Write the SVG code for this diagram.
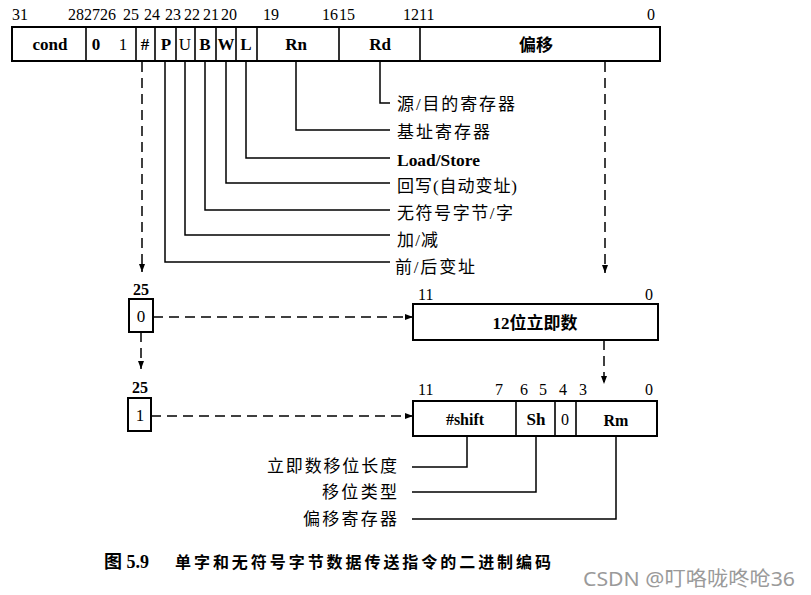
<svg xmlns="http://www.w3.org/2000/svg" width="811" height="595" viewBox="0 0 811 595">
<style>
.bx{fill:#fff;stroke:#000;stroke-width:2}
.dv{stroke:#000;stroke-width:1.6}
.num{font-family:"Liberation Serif",serif;font-size:16px;fill:#000}
.lb{font-family:"Liberation Serif","Noto Sans CJK SC",serif;font-size:17px;font-weight:bold;fill:#000;text-anchor:middle}
.nb{font-weight:normal}
.cj{font-family:"Liberation Serif","Noto Sans CJK SC",serif;font-size:17px;fill:#000}
.ld{fill:none;stroke:#000;stroke-width:1.5}
.ds{fill:none;stroke:#000;stroke-width:1.5;stroke-dasharray:10 6}
</style>
<defs>
<marker id="ah" markerWidth="8" markerHeight="6" refX="8" refY="3" orient="auto" markerUnits="userSpaceOnUse">
<path d="M0,0 L8,3 L0,6 z" fill="#000"/>
</marker>
</defs>
<rect width="811" height="595" fill="#fff"/>

<g id="instr-format">
<rect class="bx" x="12" y="27" width="648" height="34"/>
<line class="dv" x1="86" y1="27" x2="86" y2="61"/>
<line class="dv" x1="136" y1="27" x2="136" y2="61"/>
<line class="dv" x1="155" y1="27" x2="155" y2="61"/>
<line class="dv" x1="176" y1="27" x2="176" y2="61"/>
<line class="dv" x1="195" y1="27" x2="195" y2="61"/>
<line class="dv" x1="216" y1="27" x2="216" y2="61"/>
<line class="dv" x1="236" y1="27" x2="236" y2="61"/>
<line class="dv" x1="257" y1="27" x2="257" y2="61"/>
<line class="dv" x1="339" y1="27" x2="339" y2="61"/>
<line class="dv" x1="420" y1="27" x2="420" y2="61"/>
<text class="num" x="12" y="20">31</text>
<text class="num" x="68" y="20">28</text>
<text class="num" x="84" y="20">27</text>
<text class="num" x="100" y="20">26</text>
<text class="num" x="123" y="20">25</text>
<text class="num" x="144" y="20">24</text>
<text class="num" x="165" y="20">23</text>
<text class="num" x="184" y="20">22</text>
<text class="num" x="203" y="20">21</text>
<text class="num" x="221" y="20">20</text>
<text class="num" x="263" y="20">19</text>
<text class="num" x="322" y="20">16</text>
<text class="num" x="339" y="20">15</text>
<text class="num" x="403" y="20">12</text>
<text class="num" x="419" y="20">11</text>
<text class="num" x="647" y="20">0</text>
<text class="lb" x="50" y="50">cond</text>
<text class="lb" x="96" y="50">0</text>
<text class="lb nb" x="123" y="50">1</text>
<text class="lb" x="145" y="50">#</text>
<text class="lb" x="166" y="50">P</text>
<text class="lb nb" x="185" y="50">U</text>
<text class="lb" x="205" y="50">B</text>
<text class="lb" x="226" y="50">W</text>
<text class="lb" x="246" y="50">L</text>
<text class="lb" x="296" y="50">Rn</text>
<text class="lb" x="380" y="50">Rd</text>
<text class="lb" x="536" y="51">偏移</text>
</g>

<g id="bit25-0">
<text class="lb" x="141" y="295" style="font-size:16px">25</text>
<rect class="bx" x="129" y="299" width="24" height="33"/>
<text class="lb nb" x="141" y="322">0</text>
</g>

<g id="bit25-1">
<text class="lb" x="140" y="393" style="font-size:16px">25</text>
<rect class="bx" x="128" y="398" width="23" height="33"/>
<text class="lb nb" x="140" y="421">1</text>
</g>

<g id="imm12">
<rect class="bx" x="413" y="304" width="245" height="36"/>
<text class="num" x="418" y="300">11</text>
<text class="num" x="645" y="300">0</text>
<text class="lb" x="535" y="329">12位立即数</text>
</g>

<g id="shift-reg">
<rect class="bx" x="413" y="401" width="244" height="35"/>
<line class="dv" x1="516" y1="401" x2="516" y2="436"/>
<line class="dv" x1="555" y1="401" x2="555" y2="436"/>
<line class="dv" x1="576" y1="401" x2="576" y2="436"/>
<text class="num" x="418" y="395">11</text>
<text class="num" x="495" y="395">7</text>
<text class="num" x="520" y="395">6</text>
<text class="num" x="539" y="395">5</text>
<text class="num" x="559" y="395">4</text>
<text class="num" x="579" y="395">3</text>
<text class="num" x="645" y="395">0</text>
<text class="lb" x="465" y="425" style="font-size:16px">#shift</text>
<text class="lb" x="536" y="425">Sh</text>
<text class="lb nb" x="565" y="425" style="font-size:16px">0</text>
<text class="lb" x="616" y="426" style="font-size:16px">Rm</text>
</g>

<g id="field-labels">
<text class="cj" x="397" y="110" textLength="118" lengthAdjust="spacing">源/目的寄存器</text>
<text class="cj" x="397" y="138" textLength="93" lengthAdjust="spacing">基址寄存器</text>
<text class="cj" x="397" y="166" font-weight="bold" textLength="83" lengthAdjust="spacingAndGlyphs">Load/Store</text>
<text class="cj" x="397" y="192" textLength="120" lengthAdjust="spacing">回写(自动变址)</text>
<text class="cj" x="397" y="219" textLength="116" lengthAdjust="spacing">无符号字节/字</text>
<text class="cj" x="397" y="246" textLength="41" lengthAdjust="spacing">加/减</text>
<text class="cj" x="395" y="273" textLength="80" lengthAdjust="spacing">前/后变址</text>
<text class="cj" x="267" y="472" textLength="130" lengthAdjust="spacing">立即数移位长度</text>
<text class="cj" x="322" y="498" textLength="75" lengthAdjust="spacing">移位类型</text>
<text class="cj" x="303" y="525" textLength="94" lengthAdjust="spacing">偏移寄存器</text>
</g>

<g id="connectors">
<path class="ld" d="M165 61 V262 H390"/>
<path class="ld" d="M185 61 V235 H390"/>
<path class="ld" d="M205 61 V210 H390"/>
<path class="ld" d="M226 61 V183 H390"/>
<path class="ld" d="M246 61 V158 H390"/>
<path class="ld" d="M296 61 V130 H390"/>
<path class="ld" d="M380 61 V103 H390"/>
<path class="ld" d="M467 436 V467 H412"/>
<path class="ld" d="M536 436 V492 H412"/>
<path class="ld" d="M616 436 V519 H412"/>
<path class="ds" d="M142 62 V272" marker-end="url(#ah)"/>
<path class="ds" d="M141 332 V369" marker-end="url(#ah)"/>
<path class="ds" d="M153 317 H413" marker-end="url(#ah)"/>
<path class="ds" d="M151 416 H413" marker-end="url(#ah)"/>
<path class="ds" d="M605 62 V273" marker-end="url(#ah)"/>
<path class="ds" d="M604 340 V384" marker-end="url(#ah)"/>
</g>

<g id="caption">
<text font-family="'Liberation Serif','Noto Sans CJK SC',serif" font-size="16" font-weight="bold" y="568"><tspan x="104" style="font-size:18px">图 5.9</tspan><tspan x="175" textLength="376" lengthAdjust="spacing">单字和无符号字节数据传送指令的二进制编码</tspan></text>
<text x="583" y="586" font-family="'Noto Sans','Noto Sans CJK SC',sans-serif" font-size="20" fill="#9a9a9a" textLength="212" lengthAdjust="spacingAndGlyphs">CSDN @叮咯咙咚呛36</text>
</g>
</svg>
